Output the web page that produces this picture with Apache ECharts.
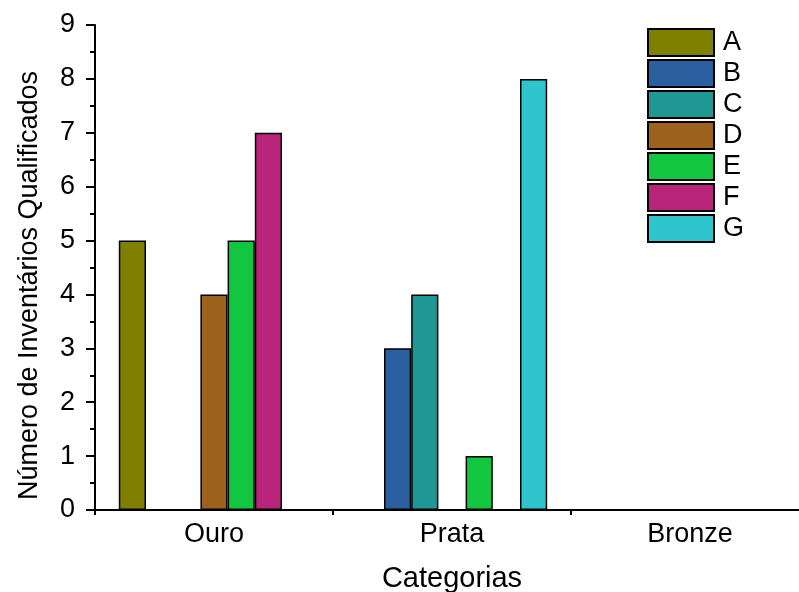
<!DOCTYPE html>
<html>
<head>
<meta charset="utf-8">
<script src="https://cdn.jsdelivr.net/npm/echarts@6/dist/echarts.min.js"></script>
<style>html,body{margin:0;padding:0;background:#fff}#c{width:799px;height:592px}</style>
</head>
<body>
<div id="c"></div>
<script>
const categories = ['Ouro', 'Prata', 'Bronze'];
const seriesNames = ['A', 'B', 'C', 'D', 'E', 'F', 'G'];
const valuesA = [5, 0, 0];
const valuesB = [0, 3, 0];
const valuesC = [0, 4, 0];
const valuesD = [4, 0, 0];
const valuesE = [5, 1, 0];
const valuesF = [7, 0, 0];
const valuesG = [0, 8, 0];
const colors = ['#7f7f00', '#2b60a0', '#1f9794', '#9b611d', '#13c63f', '#b8247a', '#2ec6cc'];
const allValues = [valuesA, valuesB, valuesC, valuesD, valuesE, valuesF, valuesG];

const font = '"Liberation Sans", Arial, sans-serif';
const chart = echarts.init(document.getElementById('c'), null, {renderer: 'canvas'});
chart.setOption({
  animation: false,
  backgroundColor: '#fff',
  textStyle: {fontFamily: font},
  grid: {left: 95, width: 714, top: 25, height: 485, containLabel: false, outerBoundsMode: 'none'},
  legend: {
    data: seriesNames,
    orient: 'vertical',
    left: 647, top: 28,
    itemWidth: 66, itemHeight: 27, itemGap: 2,
    icon: 'rect',
    textStyle: {fontSize: 27, lineHeight: 27, color: '#000', fontFamily: font, padding: [0, 0, 0, 4]},
    padding: 0
  },
  xAxis: [{
    type: 'category',
    data: categories,
    position: 'bottom',
    name: 'Categorias',
    nameLocation: 'middle',
    nameGap: 54,
    nameTextStyle: {fontSize: 29, color: '#000', fontFamily: font},
    axisLine: {lineStyle: {color: '#000', width: 2}},
    axisTick: {alignWithLabel: true, length: 8, lineStyle: {color: '#000', width: 2}},
    axisLabel: {fontSize: 27, color: '#000', margin: 11, fontFamily: font},
    splitLine: {show: false}
  }, {
    type: 'category',
    data: categories,
    position: 'bottom',
    axisLine: {show: false},
    axisTick: {show: true, length: 5, lineStyle: {color: '#000', width: 2}},
    axisLabel: {show: false},
    splitLine: {show: false}
  }],
  yAxis: {
    type: 'value',
    min: 0, max: 9, interval: 1,
    name: 'Número de Inventários Qualificados',
    nameLocation: 'middle',
    nameGap: 52,
    nameTextStyle: {fontSize: 27, color: '#000', fontFamily: font, padding: [0, 36, 0, 0]},
    axisLine: {show: true, lineStyle: {color: '#000', width: 2}},
    axisTick: {show: true, length: 9, lineStyle: {color: '#000', width: 2}},
    minorTick: {show: true, splitNumber: 2, length: 5, lineStyle: {color: '#000', width: 2}},
    axisLabel: {fontSize: 27, color: '#000', margin: 20, fontFamily: font},
    splitLine: {show: false}
  },
  series: seriesNames.map((n, i) => ({
    name: n,
    type: 'bar',
    data: allValues[i],
    barGap: '0%',
    barCategoryGap: '20%',
    itemStyle: {color: colors[i], borderColor: '#000', borderWidth: 1.5}
  }))
});
</script>
</body>
</html>
